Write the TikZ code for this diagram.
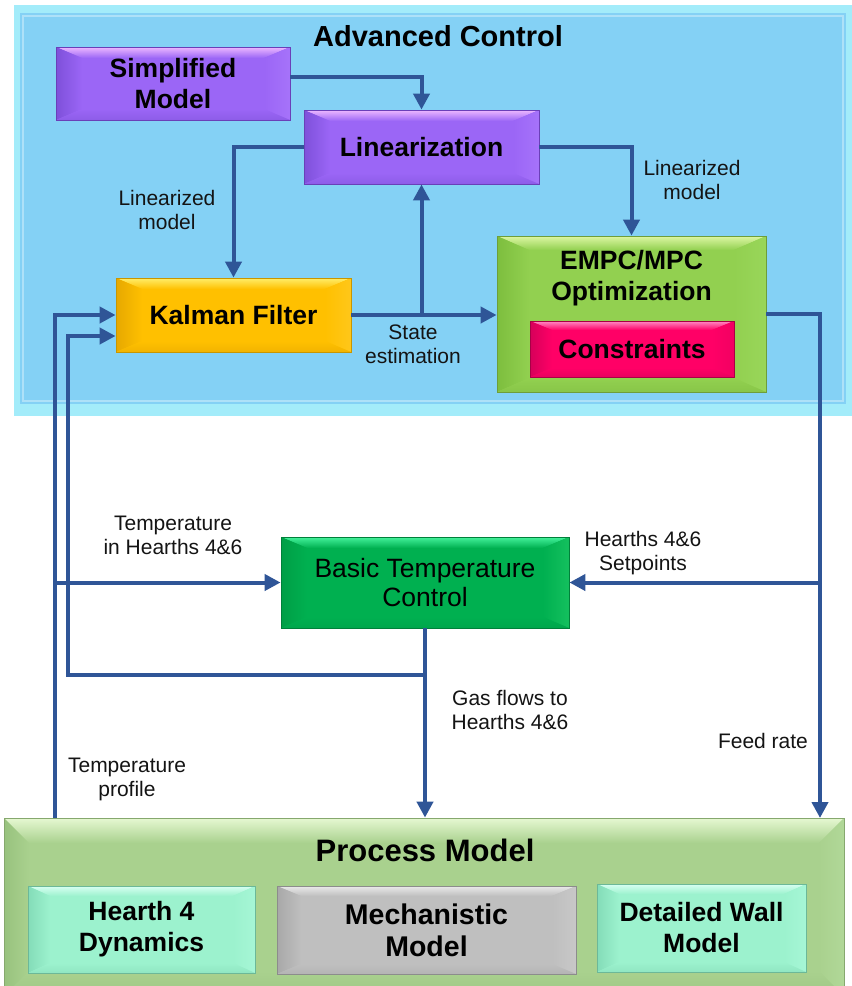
\documentclass[tikz,border=0pt]{standalone}
\usepackage{fontspec}
\setmainfont{Liberation Sans}
\usetikzlibrary{arrows.meta,calc}

% palette
\definecolor{flowblue}{HTML}{2F5597}
\definecolor{acRim}{HTML}{A3ECFA}
\definecolor{acFill}{HTML}{84D1F5}
\definecolor{purMain}{HTML}{9B66F6}
\definecolor{purTop}{HTML}{EDB8FF}
\definecolor{purLeft}{HTML}{7E50DA}
\definecolor{purRight}{HTML}{A673FA}
\definecolor{purBot}{HTML}{8D5CE8}
\definecolor{purEdge}{HTML}{6A3FB8}
\definecolor{golMain}{HTML}{FFC000}
\definecolor{golTop}{HTML}{FFEE6A}
\definecolor{golLeft}{HTML}{E6A800}
\definecolor{golRight}{HTML}{FFC71A}
\definecolor{golBot}{HTML}{F2B400}
\definecolor{golEdge}{HTML}{C89600}
\definecolor{grnMain}{HTML}{92D050}
\definecolor{grnTop}{HTML}{DDF7A4}
\definecolor{grnLeft}{HTML}{7DBE3E}
\definecolor{grnRight}{HTML}{99D65A}
\definecolor{grnBot}{HTML}{88C648}
\definecolor{grnEdge}{HTML}{6E9E3A}
\definecolor{redMain}{HTML}{FF0066}
\definecolor{redTop}{HTML}{FF8CC4}
\definecolor{redLeft}{HTML}{D6005A}
\definecolor{redRight}{HTML}{F20062}
\definecolor{redBot}{HTML}{E8005E}
\definecolor{redEdge}{HTML}{A80046}
\definecolor{btcMain}{HTML}{00B050}
\definecolor{btcTop}{HTML}{44F29C}
\definecolor{btcLeft}{HTML}{009E46}
\definecolor{btcRight}{HTML}{14C05E}
\definecolor{btcBot}{HTML}{00A64C}
\definecolor{btcEdge}{HTML}{00803A}
\definecolor{pmMain}{HTML}{A9D18E}
\definecolor{pmTop}{HTML}{E6F8D2}
\definecolor{pmLeft}{HTML}{98C27E}
\definecolor{pmRight}{HTML}{B1D898}
\definecolor{pmBot}{HTML}{A0C886}
\definecolor{pmEdge}{HTML}{86A86E}
\definecolor{mntMain}{HTML}{9CF2CE}
\definecolor{mntTop}{HTML}{D8FFF2}
\definecolor{mntLeft}{HTML}{84DCB8}
\definecolor{mntRight}{HTML}{A6F6D6}
\definecolor{mntBot}{HTML}{90E6C2}
\definecolor{mntEdge}{HTML}{6CB898}
\definecolor{gryMain}{HTML}{BFBFBF}
\definecolor{gryTop}{HTML}{EAEAEA}
\definecolor{gryLeft}{HTML}{A8A8A8}
\definecolor{gryRight}{HTML}{C8C8C8}
\definecolor{gryBot}{HTML}{B4B4B4}
\definecolor{gryEdge}{HTML}{8C8C8C}

\tikzset{
  bevel dx/.store in=\bvX, bevel dy/.store in=\bvY,
  bevel dx=26pt, bevel dy=11pt,
  bevelbox/.style n args={6}{
    draw=#6, line width=0.8pt, fill=#1, inner sep=0pt,
    path picture={
      \coordinate (bNW) at (path picture bounding box.north west);
      \coordinate (bNE) at (path picture bounding box.north east);
      \coordinate (bSW) at (path picture bounding box.south west);
      \coordinate (bSE) at (path picture bounding box.south east);
      \coordinate (iNW) at ([shift={(\bvX,-\bvY)}]bNW);
      \coordinate (iNE) at ([shift={(-\bvX,-\bvY)}]bNE);
      \coordinate (iSW) at ([shift={(\bvX,\bvY)}]bSW);
      \coordinate (iSE) at ([shift={(-\bvX,\bvY)}]bSE);
      \shade[top color=#2, bottom color=#1] (bNW) -- (bNE) -- (iNE) -- (iNW) -- cycle;
      \shade[left color=#3, right color=#1] (bNW) -- (iNW) -- (iSW) -- (bSW) -- cycle;
      \shade[left color=#1, right color=#4] (bNE) -- (iNE) -- (iSE) -- (bSE) -- cycle;
      \shade[top color=#1, bottom color=#5] (bSW) -- (iSW) -- (iSE) -- (bSE) -- cycle;
    }},
  purplebox/.style={bevelbox={purMain}{purTop}{purLeft}{purRight}{purBot}{purEdge}},
  goldbox/.style={bevelbox={golMain}{golTop}{golLeft}{golRight}{golBot}{golEdge}},
  limebox/.style={bevelbox={grnMain}{grnTop}{grnLeft}{grnRight}{grnBot}{grnEdge}},
  redbox/.style={bevelbox={redMain}{redTop}{redLeft}{redRight}{redBot}{redEdge}},
  btcbox/.style={bevelbox={btcMain}{btcTop}{btcLeft}{btcRight}{btcBot}{btcEdge}},
  pmbox/.style={bevelbox={pmMain}{pmTop}{pmLeft}{pmRight}{pmBot}{pmEdge}},
  mintbox/.style={bevelbox={mntMain}{mntTop}{mntLeft}{mntRight}{mntBot}{mntEdge}},
  graybox/.style={bevelbox={gryMain}{gryTop}{gryLeft}{gryRight}{gryBot}{gryEdge}},
  boldtext/.style={font=\bfseries\fontsize{26.5}{31}\selectfont, align=center, text=black},
  plaintext/.style={font=\fontsize{26.5}{29}\selectfont, align=center, text=black},
  flow/.style={draw=flowblue, line width=4pt, -{Triangle[length=16pt,width=16pt]}},
  lab/.style={font=\fontsize{21}{24}\selectfont, align=center, text=black!92, inner sep=0pt},
}

\begin{document}
\begin{tikzpicture}[x=1pt,y=-1pt]
\useasboundingbox (0,0) rectangle (852,986);
\clip (0,0) rectangle (852,986);
\fill[white] (0,0) rectangle (852,986);

% advanced control area
\fill[acRim] (14,5) rectangle (860,416);
\fill[acFill] (20,13) rectangle (846,404);
\draw[white, opacity=0.35, line width=1.5pt] (23,16) rectangle (843,401);
\node[font=\bfseries\fontsize{29}{33}\selectfont] (actitle) at (438,36) {Advanced Control};

% advanced control blocks
\node[purplebox, boldtext, minimum width=234pt, minimum height=73pt] (sm) at (173,83.5) {Simplified\\Model};
\node[purplebox, boldtext, minimum width=235pt, minimum height=74pt] (lin) at (421.5,147) {Linearization};
\node[goldbox, boldtext, minimum width=235pt, minimum height=74pt] (kf) at (233.5,315) {Kalman Filter};
\node[limebox, bevel dx=32pt, bevel dy=14pt, minimum width=269pt, minimum height=156pt] (empc) at (631.5,314) {};
\node[boldtext] (empctxt) at (631.5,278) {EMPC/MPC\\Optimization};
\node[redbox, boldtext, bevel dx=22pt, bevel dy=9pt, minimum width=204pt, minimum height=56pt] (con) at (632,349) {Constraints};

% basic loop
\node[btcbox, plaintext, minimum width=288pt, minimum height=91pt] (btc) at (425,582.5) {Basic Temperature\\Control};

% process model
\node[pmbox, bevel dx=25pt, bevel dy=25pt, minimum width=840pt, minimum height=178pt] (pm) at (424,907) {};
\node[font=\bfseries\fontsize{31}{35}\selectfont] (pmtitle) at (425,850) {Process Model};
\node[mintbox, boldtext, bevel dx=22pt, bevel dy=10pt, minimum width=227pt, minimum height=87pt] (h4) at (141.5,929.5) {Hearth 4\\Dynamics};
\node[graybox, boldtext, font=\bfseries\fontsize{28.5}{32}\selectfont, bevel dx=24pt, bevel dy=10pt, minimum width=299pt, minimum height=88pt] (mech) at (426.5,930) {Mechanistic\\Model};
\node[mintbox, boldtext, bevel dx=22pt, bevel dy=10pt, minimum width=209pt, minimum height=88pt] (dw) at (701.5,928) {Detailed Wall\\Model};

% connector end points on the process model
\coordinate (tprof) at (55,818);
\coordinate (feed) at (820,818);
\coordinate (gasj) at (btc.south |- 0,675);

% connectors
\draw[flow] (sm.east |- 0,77) -| (lin.north);
\draw[flow] (lin.west) -| (kf.north);
\draw[flow] (lin.east) -| (empc.north);
\draw[flow] (kf.east) -- (kf.east -| empc.west);
\draw[flow] (kf.east -| lin.south) -- (lin.south);
\draw[flow] (empc.east) -| (feed);
\draw[flow] (feed |- btc.east) -- (btc.east);
\draw[flow] (btc.south) -- (btc.south |- pm.north);
\draw[flow] (tprof) |- (kf.west);
\draw[flow] (tprof |- btc.west) -- (btc.west);
\draw[flow] (gasj) -| ([xshift=-48pt,yshift=-21pt]kf.west) -- ([yshift=-21pt]kf.west);

% connector labels
\node[lab] (l1) at (167,210) {Linearized\\model};
\node[lab] (l2) at (692,180) {Linearized\\model};
\node[lab] (l3) at (413,344) {State\\estimation};
\node[lab] (l4) at (173,535) {Temperature\\in Hearths 4\&6};
\node[lab] (l5) at (643,553) {Hearths 4\&6\\Setpoints};
\node[lab] (l6) at (510,710) {Gas flows to\\Hearths 4\&6};
\node[lab] (l7) at (763,741) {Feed rate};
\node[lab] (l8) at (127,779) {Temperature\\profile};
\end{tikzpicture}
\end{document}
